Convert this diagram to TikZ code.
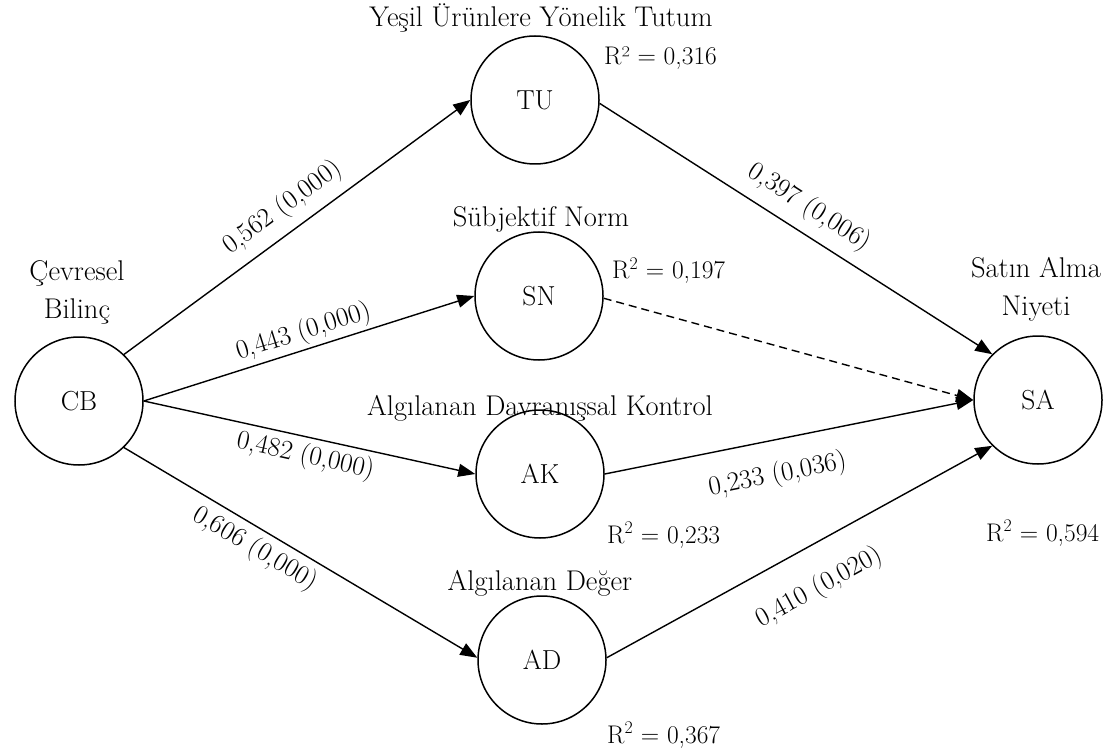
\documentclass[tikz,border=0pt]{standalone}
\usepackage{fontspec}
\usetikzlibrary{arrows.meta}
\begin{document}
\begin{tikzpicture}[x=1pt,y=-1pt,
  lat/.style={circle,draw,line width=1.5pt,minimum size=128pt,inner sep=0pt,font=\fontsize{27.5}{32}\selectfont},
  lbl/.style={font=\fontsize{28.5}{33}\selectfont,inner sep=0pt},
  rsq/.style={font=\fontsize{25.5}{30}\selectfont,inner sep=0pt,anchor=base west},
  arr/.style={line width=1.4pt,-{Triangle[length=17pt,width=13pt]}},
  coef/.style={font=\fontsize{27}{31}\selectfont,sloped,inner sep=1pt}]
\useasboundingbox (0,0) rectangle (1105,751);
\node[lat] (CB) at (79,401) {CB};
\node[lat] (TU) at (535,100) {TU};
\node[lat] (SN) at (539,296) {SN};
\node[lat] (AK) at (540,474) {AK};
\node[lat] (AD) at (542,660) {AD};
\node[lat] (SA) at (1038,400) {SA};
\node[lbl,anchor=base] (tTU) at (541,27) {Yeşil Ürünlere Yönelik Tutum};
\node[rsq] (rTU) at (604,65) {R² = 0,316};
\node[lbl,anchor=base] (tSN) at (541,227) {Sübjektif Norm};
\node[rsq] (rSN) at (612,279) {R\textsuperscript{2} = 0,197};
\node[lbl,anchor=base] (tAK) at (540,415) {Algılanan Davranışsal Kontrol};
\node[rsq] (rAK) at (607,543) {R\textsuperscript{2} = 0,233};
\node[lbl,anchor=base] (tAD) at (540,590) {Algılanan Değer};
\node[rsq] (rAD) at (607,743) {R\textsuperscript{2} = 0,367};
\node[lbl,anchor=base] (tCB1) at (77,280) {Çevresel};
\node[lbl,anchor=base] (tCB2) at (77,318) {Bilinç};
\node[lbl,anchor=base] (tSA1) at (1036,277) {Satın Alma};
\node[lbl,anchor=base] (tSA2) at (1036,315) {Niyeti};
\node[rsq] (rSA) at (986,541) {R\textsuperscript{2} = 0,594};
\draw[arr] (CB.46) -- node[coef,above=9pt,pos=0.5]{0,562 (0,000)} (TU.180);
\draw[arr] (CB.0) -- node[coef,above=2pt,pos=0.5]{0,443 (0,000)} (SN.180);
\draw[arr] (CB.0) -- node[coef,below=4pt,pos=0.5]{0,482 (0,000)} (AK.180);
\draw[arr] (CB.-46) -- node[coef,below=5pt,pos=0.4]{0,606 (0,000)} (AD.178);
\draw[arr] (TU.-3) -- node[coef,above=10pt,pos=0.5]{0,397 (0,006)} (SA.135);
\draw[arr,dash pattern=on 8pt off 5pt] (SN.-2) -- (SA.180);
\draw[arr] (AK.0) -- node[coef,below=20pt,pos=0.45]{0,233 (0,036)} (SA.180);
\draw[arr] (AD.2) -- node[coef,below=26pt,pos=0.5]{0,410 (0,020)} (SA.-135);
\end{tikzpicture}
\end{document}
